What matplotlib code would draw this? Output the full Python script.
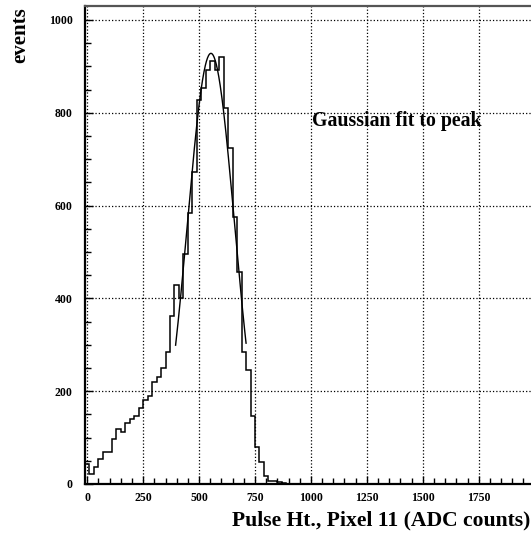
import numpy as np
import matplotlib.pyplot as plt
from matplotlib.ticker import MultipleLocator

# histogram of pulse heights, 20-count bins centred on 0, 20, 40, ...
bin_width = 20
counts = [43, 22, 36, 53, 70, 70, 98, 118, 112, 132,
          139, 146, 163, 180, 190, 219, 231, 249, 284, 361,
          429, 400, 496, 584, 673, 827, 853, 893, 912, 892,
          921, 810, 725, 575, 456, 285, 246, 146, 80, 48,
          17, 6, 6, 4, 2, 1, 1, 1, 0, 1, 0]

# gaussian fit to the peak
fit_amp = 928
fit_mean = 553
fit_sigma = 105
fit_lo, fit_hi = 395, 710

x_ticks = [0, 250, 500, 750, 1000, 1250, 1500, 1750]
y_ticks = [0, 200, 400, 600, 800, 1000]

serif = ['Liberation Serif', 'DejaVu Serif']

fig = plt.figure(figsize=(5.31, 5.34), dpi=100)
ax = fig.add_axes([85 / 531, 1 - 484 / 534, 447.4 / 531, 478 / 534])

edges = np.arange(len(counts) + 1) * bin_width - bin_width / 2
ax.stairs(counts, edges, baseline=0, color='black', linewidth=1.1)

xf = np.linspace(fit_lo, fit_hi, 200)
yf = fit_amp * np.exp(-0.5 * ((xf - fit_mean) / fit_sigma) ** 2)
ax.plot(xf, yf, color='black', linewidth=1.0)

ax.set_xlim(-10, 1990)
ax.set_ylim(0, 1030)
ax.set_xticks(x_ticks)
ax.set_yticks(y_ticks)
ax.xaxis.set_minor_locator(MultipleLocator(50))
ax.yaxis.set_minor_locator(MultipleLocator(50))
ax.grid(True, which='major', color='black', linestyle=':', linewidth=0.9)
ax.tick_params(which='major', direction='in', length=6, width=1, pad=6)
ax.tick_params(axis='y', which='major', pad=9)
ax.tick_params(which='minor', direction='in', length=4, width=1)
for lbl in ax.get_xticklabels() + ax.get_yticklabels():
    lbl.set_family(serif)
    lbl.set_fontweight('bold')
    lbl.set_fontsize(8.5)

for side in ['left', 'bottom']:
    ax.spines[side].set_linewidth(1.6)
ax.spines['top'].set_linewidth(1.6)
ax.spines['top'].set_color('#555555')

ax.text(1004, 771, 'Gaussian fit to peak', family=serif, fontweight='bold',
        fontsize=14.3, ha='left', va='baseline')

fig.text(530 / 531, 0.016, 'Pulse Ht., Pixel 11 (ADC counts)', family=serif,
         fontweight='bold', fontsize=15.6, ha='right', va='baseline')
fig.text(20 / 531, 1 - 7 / 534, 'events', family=serif, fontweight='bold',
         fontsize=15, rotation=90, ha='center', va='top')

fig.savefig('out.png', dpi=100)
